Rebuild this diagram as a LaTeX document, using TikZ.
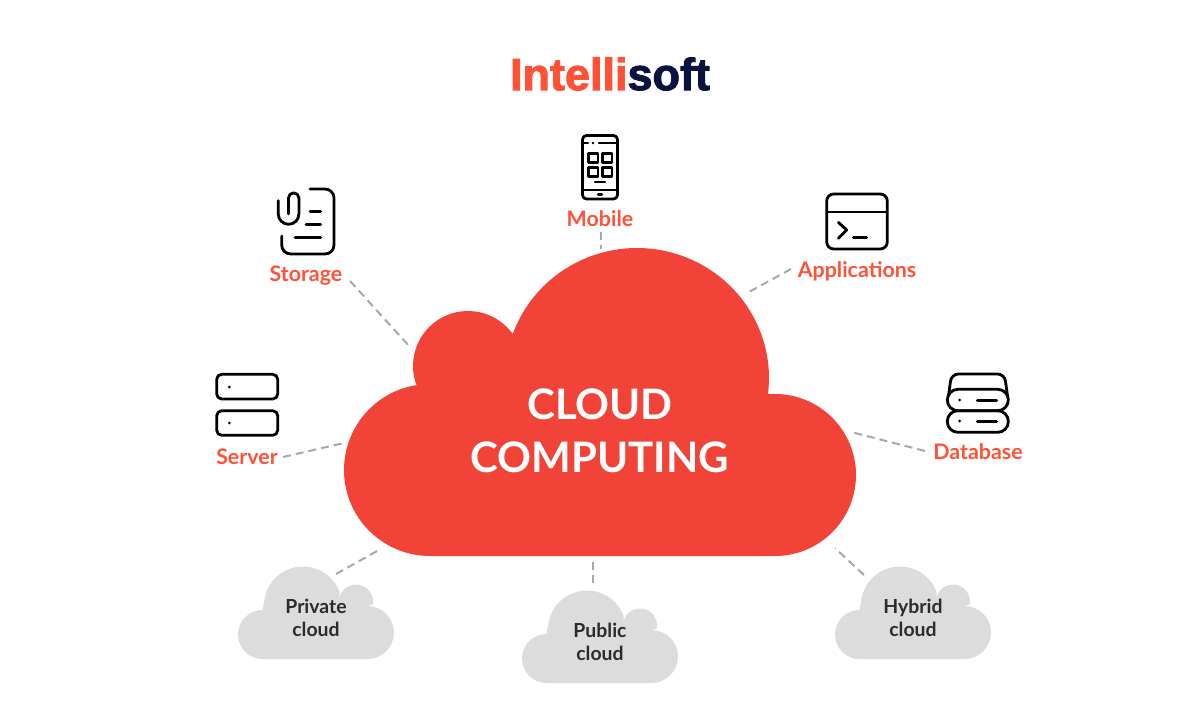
\documentclass[tikz,border=0pt]{standalone}
\usepackage{fontspec}
\setmainfont{Lato}
\newfontfamily\logofont[BoldFont=Liberation Sans Bold,BoldFeatures={FakeBold=2.2}]{Liberation Sans}
\definecolor{cloudred}{HTML}{F14337}
\definecolor{labelred}{HTML}{FF5237}
\definecolor{logonavy}{HTML}{0B1240}
\definecolor{cloudgray}{HTML}{DCDCDC}
\definecolor{dashgray}{HTML}{A8A8A8}
\definecolor{inkgray}{HTML}{2B2B2B}
\tikzset{
  link/.style={draw=dashgray,line width=2pt,dash pattern=on 8pt off 5pt},
  icon/.style={draw=black,line width=2.8pt,line cap=round,line join=round},
  dotmark/.style={fill=black,draw=none},
  topic/.style={inner sep=0pt,text=labelred,font=\fontsize{21.4}{25}\selectfont\bfseries},
  kind/.style={inner sep=0pt,text=inkgray,align=center,font=\fontsize{19.4}{23.5}\selectfont\bfseries},
  title/.style={inner sep=0pt,text=white,align=center,font=\fontsize{42}{53}\selectfont\bfseries},
  graycloud/.pic={
    % small cloud, local origin at the middle of its bounding box
    \fill[cloudgray] (-53.5,46.5)
      arc[start angle=270,end angle=90,radius=24.5pt]
      -- ([shift={(172:39pt)}]-13,-7)
      arc[start angle=172,end angle=20,radius=39pt]
      -- ([shift={(170:17pt)}]40,-11)
      arc[start angle=170,end angle=-10,radius=17pt]
      -- (51.5,-6.5)
      arc[start angle=90,end angle=-90,radius=26.5pt]
      -- cycle;
  }
}
\begin{document}
\begin{tikzpicture}[x=1pt,y=-1pt]
\useasboundingbox (0,0) rectangle (1200,709);

% main cloud
\fill[cloudred] (430,556)
  arc[start angle=270,end angle=100,radius=86pt]
  -- ([shift={(201:55pt)}]468,366)
  arc[start angle=201,end angle=35.6,radius=55pt]
  -- (512.8,334)
  arc[start angle=160.2,end angle=-7,x radius=132pt,y radius=130pt]
  -- ([shift={(94:81pt)}]775,475)
  arc[start angle=94,end angle=-90,radius=81pt]
  -- cycle;
\node[title] (main) at (600,431) {CLOUD\\COMPUTING};

% small clouds
\pic at (316,612.5) {graycloud};
\pic at (600,636.5) {graycloud};
\pic at (913,612.5) {graycloud};
\node[kind] (private) at (316,618) {Private\\cloud};
\node[kind] (public) at (600,642) {Public\\cloud};
\node[kind] (hybrid) at (913,618) {Hybrid\\cloud};

% brand mark
\node[inner sep=0pt,font=\logofont\bfseries\fontsize{45}{45}\selectfont] (brand) at (610,74)
  {\textcolor{labelred}{Intelli}\textcolor{logonavy}{soft}};

% labels
\node[topic] (mobile) at (600,219) {Mobile};
\node[topic] (storage) at (306,276) {Storage};
\node[topic] (apps) at (857,271) {Applications};
\node[topic] (database) at (978,451.5) {Database};
\node[topic] (server) at (247,456.5) {Server};

% connector ends
\coordinate (mobileA) at (600.5,232);
\coordinate (mobileB) at (600.5,249);
\coordinate (storageA) at (350,281);
\coordinate (storageB) at (410,347);
\coordinate (serverA) at (283,457);
\coordinate (serverB) at (344,443);
\coordinate (appsA) at (791,269);
\coordinate (appsB) at (747,293);
\coordinate (dbA) at (925,451);
\coordinate (dbB) at (851,432);
\coordinate (privA) at (336,574);
\coordinate (privB) at (379,550);
\coordinate (pubA) at (593,583);
\coordinate (pubB) at (593,562);
\coordinate (hybA) at (864,575);
\coordinate (hybB) at (835,548);
\draw[link] (mobileA) -- (mobileB);
\draw[link] (storageA) -- (storageB);
\draw[link] (serverA) -- (serverB);
\draw[link] (appsA) -- (appsB);
\draw[link] (dbA) -- (dbB);
\draw[link] (privA) -- (privB);
\draw[link] (pubA) -- (pubB);
\draw[link] (hybA) -- (hybB);

% phone icon
\draw[icon,rounded corners=4pt] (582.5,135.5) rectangle (617.5,199);
\draw[icon,line width=2.2pt] (583,143) -- (588,143) (599,143) -- (617,143) (583,190) -- (617,190);
\fill[dotmark] (593,143) circle[radius=1.3pt];
\draw[icon,line width=2.5pt] (588.5,153.5) rectangle (598,162.5) (602.5,153.5) rectangle (612,162.5)
  (588.5,167.5) rectangle (598,176.5) (602.5,167.5) rectangle (612,176.5);
\draw[icon,line width=2.2pt] (595,182) -- (605,182);
\draw[icon,line width=2.2pt] (598,194.5) -- (602,194.5);

% document and paperclip icon
\draw[icon,rounded corners=9pt] (310,189) -- (334,189) -- (334,254) -- (281.7,254) -- (281.7,236);
\draw[icon] (310,211.3) -- (320.7,211.3) (306,224.3) -- (320.7,224.3) (295,237.3) -- (320.7,237.3);
\draw[icon] (278.3,200.7) -- (278.3,214)
  arc[start angle=180,end angle=360,radius=10.3pt]
  -- (298.9,198)
  arc[start angle=0,end angle=180,radius=5.2pt]
  -- (288.5,214);

% server icon
\draw[icon,rounded corners=5pt] (216.7,374.3) rectangle (277.7,399);
\draw[icon,rounded corners=5pt] (216.7,410.7) rectangle (277.7,435.3);
\fill[dotmark] (229.3,387) circle[radius=1.5pt] (229.3,423) circle[radius=1.5pt];

% terminal window icon
\draw[icon,rounded corners=7pt] (826.7,194) rectangle (887.3,249);
\draw[icon,line width=2.2pt] (827,211.7) -- (887,211.7);
\draw[icon] (838.3,222.3) -- (846.7,230) -- (838.3,238.3);
\draw[icon] (853.3,237.7) -- (866.7,237.7);

% database icon
\draw[icon,rounded corners=10.6pt] (947.3,410.7) rectangle (1008.3,432.3);
\draw[icon,rounded corners=10.6pt] (947.3,389.3) rectangle (1008.3,410.7);
\draw[icon,rounded corners=7pt] (948.5,396) -- (951.5,374) -- (1004.5,374) -- (1007.5,396);
\fill[dotmark] (959.5,400) circle[radius=1.5pt] (959.5,421) circle[radius=1.5pt];
\draw[icon,line width=3pt] (977.3,400) -- (996.7,400) (977.3,421) -- (996.7,421);
\end{tikzpicture}
\end{document}
